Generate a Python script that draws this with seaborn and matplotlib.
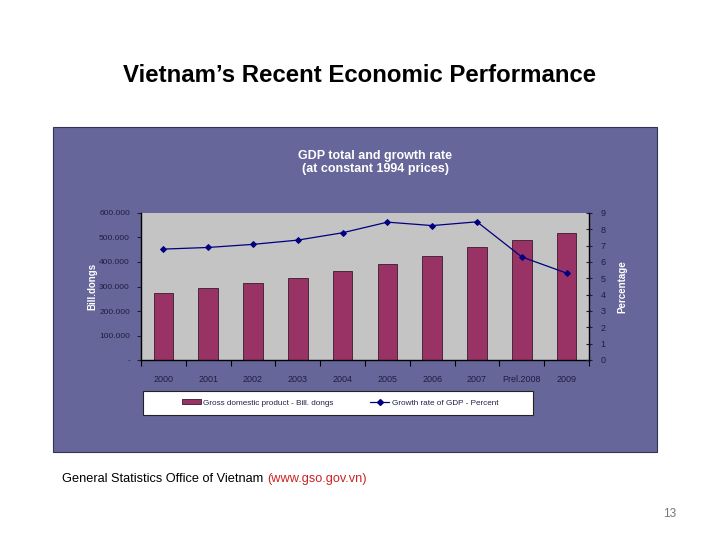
import numpy as np
import pandas as pd
import matplotlib
matplotlib.use("Agg")
import matplotlib.pyplot as plt
import seaborn as sns
from matplotlib.patches import Rectangle, Patch
from matplotlib.lines import Line2D
from matplotlib.ticker import FuncFormatter

# data
years = ["2000", "2001", "2002", "2003", "2004", "2005", "2006", "2007", "Prel.2008", "2009"]
gdp = [273666, 292535, 313247, 336242, 362435, 393031, 425373, 461344, 490458, 516566]
growth = [6.79, 6.89, 7.08, 7.34, 7.79, 8.44, 8.23, 8.46, 6.31, 5.32]

df = pd.DataFrame({"year": years, "gdp": gdp, "growth": growth})

sns.set_theme(style="white")
plt.rcParams["font.family"] = ["Liberation Sans", "DejaVu Sans"]

W, H = 720, 540
fig = plt.figure(figsize=(7.2, 5.4), dpi=100)
fig.patch.set_facecolor("white")

def fx(px):
    return px / W

def fy(py):
    return 1 - py / H

# slide title
fig.text(fx(360), fy(76), "Vietnam\u2019s Recent Economic Performance",
         ha="center", va="center", fontsize=17.3, fontweight="bold", color="black")

# purple chart panel
panel_col = "#66669a"
fig.patches.append(Rectangle((fx(53), fy(452)), fx(657) - fx(53), fy(127) - fy(452),
                             transform=fig.transFigure, facecolor=panel_col,
                             edgecolor="#333355", linewidth=0.8, zorder=-5))

fig.text(fx(375), fy(156), "GDP total and growth rate", ha="center", va="center",
         fontsize=9, fontweight="bold", color="white")
fig.text(fx(375), fy(169), "(at constant 1994 prices)", ha="center", va="center",
         fontsize=9, fontweight="bold", color="white")

# plot area
ax = fig.add_axes([fx(141), fy(360), fx(589) - fx(141), fy(213) - fy(360)])
ax.set_zorder(1)
ax.set_facecolor("#c4c4c4")
sns.barplot(data=df, x="year", y="gdp", color="#993366", width=0.44,
            saturation=1, edgecolor="#3a1a2a", linewidth=0.6, ax=ax)
ax.set_ylim(0, 600000)
ax.set_xlim(-0.5, len(years) - 0.5)
ax.set_yticks(np.arange(0, 600001, 100000))
ax.yaxis.set_major_formatter(FuncFormatter(
    lambda v, p: "-" if v == 0 else f"{int(v):,}".replace(",", ".")))
ax.set_xlabel("")
ax.set_ylabel("Bill.dongs", fontsize=7, fontweight="bold", color="white")
ax.yaxis.set_label_coords(-0.098, 0.5)

ax2 = ax.twinx()
ax2.set_zorder(2)
sns.lineplot(x=np.arange(len(years)), y=growth, color="#000080", marker="D",
             markersize=3, markeredgecolor="#000080", linewidth=0.9, ax=ax2)
ax2.set_ylim(0, 9)
ax2.set_yticks(range(0, 10))
ax2.set_ylabel("Percentage", fontsize=7, fontweight="bold", color="white", labelpad=8)

tick_col = "#1e1e40"
for a in (ax, ax2):
    for s in a.spines.values():
        s.set_visible(False)
    a.tick_params(labelsize=6.5, colors=tick_col, length=3, width=0.8)
ax.tick_params(axis="y", labelsize=6)
ax.spines["left"].set_visible(True)
ax.spines["bottom"].set_visible(True)
ax2.spines["right"].set_visible(True)
for s in (ax.spines["left"], ax.spines["bottom"], ax2.spines["right"]):
    s.set_color("black")
    s.set_linewidth(1.0)
ax.tick_params(axis="y", left=True, direction="out", pad=5)
ax2.tick_params(axis="y", right=True, direction="inout", length=5, pad=6)

# x ticks between categories, labels centred under bars
ax.set_xticks(np.arange(len(years)))
ax.set_xticklabels(years)
ax.tick_params(axis="x", bottom=False, pad=8)
ax.set_xticks(np.arange(len(years) + 1) - 0.5, minor=True)
ax.tick_params(axis="x", which="minor", bottom=True, direction="out", length=4,
               width=0.8, color="black")

# legend box
fig.patches.append(Rectangle((fx(143), fy(415)), fx(533) - fx(143), fy(391) - fy(415),
                             transform=fig.transFigure, facecolor="white",
                             edgecolor="#222222", linewidth=0.8, zorder=3))
handles = [Patch(facecolor="#993366", edgecolor="#3a1a2a", linewidth=0.6),
           Line2D([0], [0], color="#000080", marker="D", markersize=3, linewidth=0.9)]
labels = ["Gross domestic product - Bill. dongs", "Growth rate of GDP - Percent"]
leg = fig.legend(handles, labels, loc="center", ncol=2,
                 bbox_to_anchor=(fx(340), fy(403)), bbox_transform=fig.transFigure,
                 fontsize=5.9, frameon=False, borderaxespad=0, handlelength=2.3,
                 handleheight=0.6, handletextpad=0.3, columnspacing=4.5, borderpad=0)
leg.set_zorder(4)
for t in leg.get_texts():
    t.set_color("#222244")

# source line
t1 = fig.text(fx(62), fy(479), "General Statistics Office of Vietnam ", ha="left", va="center",
              fontsize=9.2, color="black")
fig.canvas.draw()
bb = t1.get_window_extent()
fig.text(bb.x1 / (fig.dpi * 7.2), fy(479), "(www.gso.gov.vn)", ha="left", va="center",
         fontsize=9.2, color="#cc2222")

fig.text(fx(670), fy(514), "13", ha="center", va="center", fontsize=8.5, color="#777777")

fig.savefig("out.png", dpi=100)
